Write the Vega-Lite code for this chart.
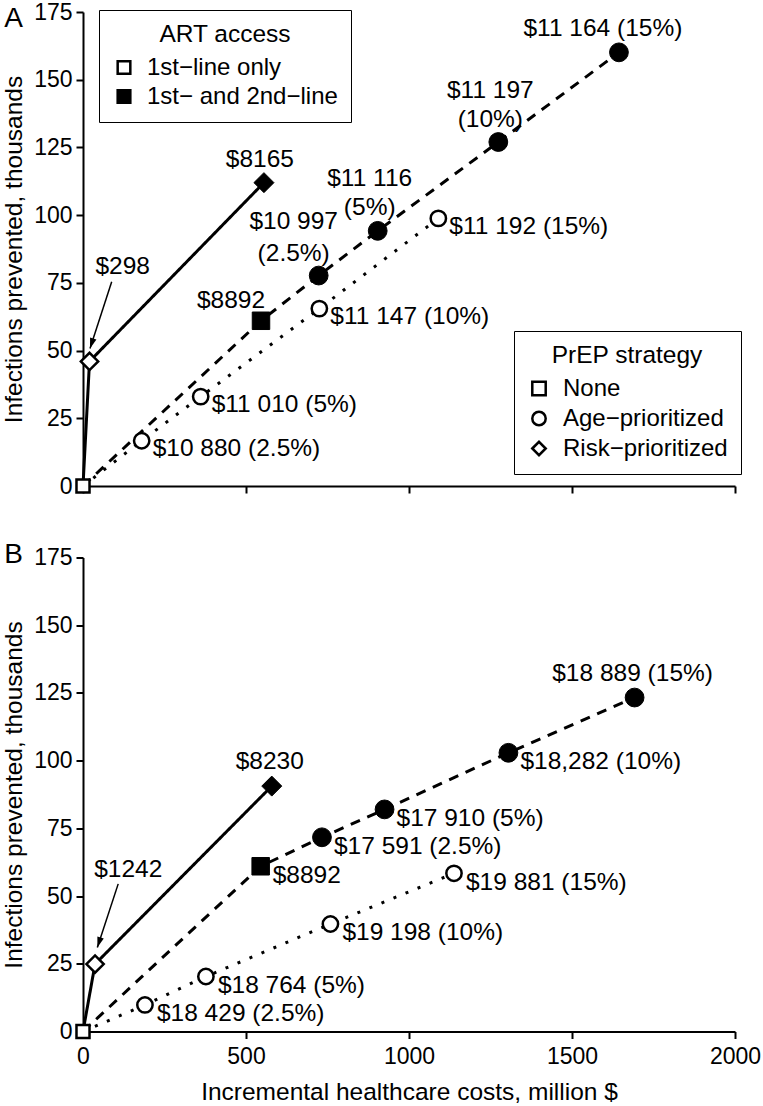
{
  "$schema": "https://vega.github.io/schema/vega-lite/v6.json",
  "padding": {"left": 1, "top": 1, "right": 0, "bottom": 0},
  "autosize": {"type": "pad"},
  "config": {
    "view": {"stroke": null},
    "font": "Liberation Sans",
    "axis": {
      "domainColor": "black", "domainWidth": 2, "tickColor": "black", "tickWidth": 2, "tickSize": 7,
      "labelFontSize": 23, "labelColor": "black", "titleFontSize": 24.5, "titleFontWeight": "normal",
      "titleColor": "black", "grid": false, "labelPadding": 4, "labelFlush": false, "format": "d"
    },
    "axisY": {"titlePadding": 7},
    "axisX": {"titlePadding": 12, "labelPadding": 7},
    "text": {"fontSize": 24.5, "color": "black"}
  },
  "datasets": {
    "ptsA": [
      {"cost": 0, "inf": 0, "art": "1st−line only", "prep": "None", "label": ""},
      {"cost": 20, "inf": 46, "art": "1st−line only", "prep": "Risk−prioritized", "label": "$298"},
      {"cost": 180, "inf": 16.7, "art": "1st−line only", "prep": "Age−prioritized", "label": "$10 880 (2.5%)"},
      {"cost": 361, "inf": 33, "art": "1st−line only", "prep": "Age−prioritized", "label": "$11 010 (5%)"},
      {"cost": 725, "inf": 65.5, "art": "1st−line only", "prep": "Age−prioritized", "label": "$11 147 (10%)"},
      {"cost": 1090, "inf": 98.8, "art": "1st−line only", "prep": "Age−prioritized", "label": "$11 192 (15%)"},
      {"cost": 546, "inf": 61, "art": "1st− and 2nd−line", "prep": "None", "label": "$8892"},
      {"cost": 555, "inf": 112, "art": "1st− and 2nd−line", "prep": "Risk−prioritized", "label": "$8165"},
      {"cost": 723, "inf": 77.7, "art": "1st− and 2nd−line", "prep": "Age−prioritized", "label": "$10 997\n(2.5%)"},
      {"cost": 904, "inf": 94.2, "art": "1st− and 2nd−line", "prep": "Age−prioritized", "label": "$11 116\n(5%)"},
      {"cost": 1274, "inf": 127, "art": "1st− and 2nd−line", "prep": "Age−prioritized", "label": "$11 197\n(10%)"},
      {"cost": 1644, "inf": 160.1, "art": "1st− and 2nd−line", "prep": "Age−prioritized", "label": "$11 164 (15%)"}
    ],
    "ptsB": [
      {"cost": 0, "inf": 0, "art": "1st−line only", "prep": "None", "label": ""},
      {"cost": 37, "inf": 24.9, "art": "1st−line only", "prep": "Risk−prioritized", "label": "$1242"},
      {"cost": 190, "inf": 9.8, "art": "1st−line only", "prep": "Age−prioritized", "label": "$18 429 (2.5%)"},
      {"cost": 377, "inf": 20.3, "art": "1st−line only", "prep": "Age−prioritized", "label": "$18 764 (5%)"},
      {"cost": 759, "inf": 39.7, "art": "1st−line only", "prep": "Age−prioritized", "label": "$19 198 (10%)"},
      {"cost": 1138, "inf": 58.4, "art": "1st−line only", "prep": "Age−prioritized", "label": "$19 881 (15%)"},
      {"cost": 545, "inf": 61, "art": "1st− and 2nd−line", "prep": "None", "label": "$8892"},
      {"cost": 579, "inf": 90.6, "art": "1st− and 2nd−line", "prep": "Risk−prioritized", "label": "$8230"},
      {"cost": 733, "inf": 71.7, "art": "1st− and 2nd−line", "prep": "Age−prioritized", "label": "$17 591 (2.5%)"},
      {"cost": 925, "inf": 82, "art": "1st− and 2nd−line", "prep": "Age−prioritized", "label": "$17 910 (5%)"},
      {"cost": 1305, "inf": 102.9, "art": "1st− and 2nd−line", "prep": "Age−prioritized", "label": "$18,282 (10%)"},
      {"cost": 1692, "inf": 123.3, "art": "1st− and 2nd−line", "prep": "Age−prioritized", "label": "$18 889 (15%)"}
    ],
    "linesA": [
      {"path": "risk", "cost": 0, "inf": 0}, {"path": "risk", "cost": 20, "inf": 46}, {"path": "risk", "cost": 555, "inf": 112},
      {"path": "art2", "cost": 0, "inf": 0}, {"path": "art2", "cost": 546, "inf": 61}, {"path": "art2", "cost": 723, "inf": 77.7},
      {"path": "art2", "cost": 904, "inf": 94.2}, {"path": "art2", "cost": 1274, "inf": 127}, {"path": "art2", "cost": 1644, "inf": 160.1},
      {"path": "age1", "cost": 0, "inf": 0}, {"path": "age1", "cost": 180, "inf": 16.7}, {"path": "age1", "cost": 361, "inf": 33},
      {"path": "age1", "cost": 725, "inf": 65.5}, {"path": "age1", "cost": 1090, "inf": 98.8}
    ],
    "linesB": [
      {"path": "risk", "cost": 0, "inf": 0}, {"path": "risk", "cost": 37, "inf": 24.9}, {"path": "risk", "cost": 579, "inf": 90.6},
      {"path": "art2", "cost": 0, "inf": 0}, {"path": "art2", "cost": 545, "inf": 61}, {"path": "art2", "cost": 733, "inf": 71.7},
      {"path": "art2", "cost": 925, "inf": 82}, {"path": "art2", "cost": 1305, "inf": 102.9}, {"path": "art2", "cost": 1692, "inf": 123.3},
      {"path": "age1", "cost": 0, "inf": 0}, {"path": "age1", "cost": 190, "inf": 9.8}, {"path": "age1", "cost": 377, "inf": 20.3},
      {"path": "age1", "cost": 759, "inf": 39.7}, {"path": "age1", "cost": 1138, "inf": 58.4}
    ],
    "arrowA": [{"cost": 88, "inf": 75.4, "cost2": 21.5, "inf2": 50.8, "label": "$298"}],
    "headA": [{"cost": 21.5, "inf": 50.8}],
    "arrowB": [{"cost": 108, "inf": 54.5, "cost2": 44, "inf2": 31, "label": "$1242"}],
    "headB": [{"cost": 44, "inf": 31}],
    "letterA": [{"cost": -213, "inf": 169.5, "label": "A"}],
    "letterB": [{"cost": -213, "inf": 172.8, "label": "B"}]
  },
  "spacing": 42.5,
  "resolve": {
    "scale": {"fill": "independent", "shape": "independent", "size": "independent", "strokeDash": "independent"},
    "legend": {"fill": "independent", "shape": "independent"}
  },
  "vconcat": [
    {
      "width": 652, "height": 474,
      "encoding": {
        "x": {"field": "cost", "type": "quantitative", "scale": {"domain": [0, 2000], "nice": false, "zero": false},
              "axis": {"values": [0, 500, 1000, 1500, 2000], "labels": false, "title": null}},
        "y": {"field": "inf", "type": "quantitative", "scale": {"domain": [0, 175], "nice": false},
              "axis": {"values": [0, 25, 50, 75, 100, 125, 150, 175], "title": "Infections prevented, thousands"}}
      },
      "resolve": {"scale": {"size": "independent"}},
      "layer": [
        {
          "data": {"name": "linesA"},
          "mark": {"type": "line", "color": "black", "strokeWidth": 3, "strokeCap": "butt"},
          "encoding": {
            "strokeDash": {"field": "path", "type": "nominal", "scale": {"domain": ["risk", "art2", "age1"], "range": [[1, 0], [10, 8], [3, 10]]}, "legend": null}
          }
        },
        {
          "data": {"name": "arrowA"},
          "mark": {"type": "rule", "color": "black", "strokeWidth": 1.5},
          "encoding": {"x2": {"field": "cost2"}, "y2": {"field": "inf2"}}
        },
        {
          "data": {"name": "headA"},
          "mark": {"type": "point", "shape": "M0,0L-0.32,-1L0.32,-1Z", "filled": true, "color": "black", "size": 440, "angle": 18, "opacity": 1, "strokeWidth": 0}
        },
        {
          "data": {"name": "ptsA"},
          "transform": [{"filter": {"field": "art", "equal": "1st−line only"}}],
          "mark": {"type": "point", "filled": true, "stroke": "black", "strokeWidth": 2.5, "opacity": 1},
          "encoding": {
            "shape": {"field": "prep", "type": "nominal",
              "scale": {"domain": ["None", "Age−prioritized", "Risk−prioritized"], "range": ["square", "circle", "diamond"]},
              "legend": {"title": "PrEP strategy", "orient": "none", "legendX": 431, "legendY": 319,
                "symbolSize": 180, "symbolStrokeWidth": 2.5, "symbolStrokeColor": "black", "symbolFillColor": "white",
                "labelFontSize": 24, "titleFontSize": 24.5, "titleFontWeight": "normal", "titleAnchor": "middle",
                "labelColor": "black", "titleColor": "black", "labelLimit": 400,
                "padding": 13, "rowPadding": 6, "titlePadding": 8, "labelOffset": 12,
                "strokeColor": "black", "fillColor": "white",
                "encode": {"symbols": {"update": {"fill": {"value": "white"}, "stroke": {"value": "black"}, "strokeWidth": {"value": 2.5}, "opacity": {"value": 1}}},
                           "legend": {"update": {"strokeWidth": {"value": 1.5}}}}}},
            "fill": {"field": "art", "type": "nominal",
              "scale": {"domain": ["1st−line only", "1st− and 2nd−line"], "range": ["white", "black"]},
              "legend": {"title": "ART access", "orient": "none", "legendX": 16, "legendY": -2,
                "symbolType": "square", "symbolSize": 160, "symbolStrokeWidth": 2.5, "symbolStrokeColor": "black",
                "labelFontSize": 24, "titleFontSize": 24.5, "titleFontWeight": "normal", "titleAnchor": "middle",
                "labelColor": "black", "titleColor": "black", "labelLimit": 400,
                "padding": 13, "rowPadding": 5, "titlePadding": 8, "labelOffset": 11,
                "strokeColor": "black", "fillColor": "white",
                "encode": {"symbols": {"update": {"stroke": {"value": "black"}, "strokeWidth": {"value": 2.5}, "opacity": {"value": 1}}},
                           "legend": {"update": {"strokeWidth": {"value": 1.5}}}}}},
            "size": {"field": "prep", "type": "nominal",
              "scale": {"domain": ["None", "Age−prioritized", "Risk−prioritized"], "range": [170, 300, 480]}, "legend": null}
          }
        },
        {
          "data": {"name": "ptsA"},
          "transform": [{"filter": {"field": "art", "equal": "1st− and 2nd−line"}}],
          "mark": {"type": "point", "filled": true, "stroke": "black", "strokeWidth": 1, "opacity": 1},
          "encoding": {
            "shape": {"field": "prep", "type": "nominal",
              "scale": {"domain": ["None", "Age−prioritized", "Risk−prioritized"], "range": ["square", "circle", "diamond"]}, "legend": null},
            "fill": {"field": "art", "type": "nominal",
              "scale": {"domain": ["1st−line only", "1st− and 2nd−line"], "range": ["white", "black"]}, "legend": null},
            "size": {"field": "prep", "type": "nominal",
              "scale": {"domain": ["None", "Age−prioritized", "Risk−prioritized"], "range": [306, 400, 576]}, "legend": null}
          }
        },
        {
          "data": {"name": "ptsA"},
          "transform": [{"filter": {"field": "label", "oneOf": ["$10 880 (2.5%)", "$11 010 (5%)", "$11 147 (10%)", "$11 192 (15%)"]}}],
          "mark": {"type": "text", "align": "left", "baseline": "middle", "dx": 11, "dy": 8.5},
          "encoding": {"text": {"field": "label"}}
        },
        {
          "data": {"name": "ptsA"},
          "transform": [{"filter": {"field": "label", "equal": "$11 164 (15%)"}}],
          "mark": {"type": "text", "align": "center", "baseline": "middle", "dx": -16, "dy": -23},
          "encoding": {"text": {"field": "label"}}
        },
        {
          "data": {"name": "ptsA"},
          "transform": [{"filter": {"field": "label", "equal": "$8165"}}],
          "mark": {"type": "text", "align": "center", "baseline": "middle", "dx": -4, "dy": -23},
          "encoding": {"text": {"field": "label"}}
        },
        {
          "data": {"name": "ptsA"},
          "transform": [{"filter": {"field": "label", "oneOf": ["$11 116\n(5%)", "$11 197\n(10%)"]}}],
          "mark": {"type": "text", "align": "center", "baseline": "middle", "dx": -8, "dy": -51.5, "lineBreak": "\n", "lineHeight": 29},
          "encoding": {"text": {"field": "label"}}
        },
        {
          "data": {"name": "ptsA"},
          "transform": [{"filter": {"field": "label", "equal": "$10 997\n(2.5%)"}}],
          "mark": {"type": "text", "align": "center", "baseline": "middle", "dx": -25, "dy": -54, "lineBreak": "\n", "lineHeight": 32},
          "encoding": {"text": {"field": "label"}}
        },
        {
          "data": {"name": "ptsA"},
          "transform": [{"filter": {"field": "label", "equal": "$8892"}}],
          "mark": {"type": "text", "align": "center", "baseline": "middle", "dx": -30, "dy": -20},
          "encoding": {"text": {"field": "label"}}
        },
        {
          "data": {"name": "arrowA"},
          "mark": {"type": "text", "align": "center", "baseline": "middle", "dx": 11, "dy": -15},
          "encoding": {"text": {"field": "label"}}
        },
        {
          "data": {"name": "letterA"},
          "mark": {"type": "text", "align": "center", "baseline": "alphabetic", "fontSize": 28},
          "encoding": {"text": {"field": "label"}}
        }
      ]
    },
    {
      "width": 652, "height": 474,
      "encoding": {
        "x": {"field": "cost", "type": "quantitative", "scale": {"domain": [0, 2000], "nice": false, "zero": false},
              "axis": {"values": [0, 500, 1000, 1500, 2000], "title": "Incremental healthcare costs, million $"}},
        "y": {"field": "inf", "type": "quantitative", "scale": {"domain": [0, 175], "nice": false},
              "axis": {"values": [0, 25, 50, 75, 100, 125, 150, 175], "title": "Infections prevented, thousands"}}
      },
      "resolve": {"scale": {"size": "independent"}},
      "layer": [
        {
          "data": {"name": "linesB"},
          "mark": {"type": "line", "color": "black", "strokeWidth": 3, "strokeCap": "butt"},
          "encoding": {
            "strokeDash": {"field": "path", "type": "nominal", "scale": {"domain": ["risk", "art2", "age1"], "range": [[1, 0], [10, 8], [3, 10]]}, "legend": null}
          }
        },
        {
          "data": {"name": "arrowB"},
          "mark": {"type": "rule", "color": "black", "strokeWidth": 1.5},
          "encoding": {"x2": {"field": "cost2"}, "y2": {"field": "inf2"}}
        },
        {
          "data": {"name": "headB"},
          "mark": {"type": "point", "shape": "M0,0L-0.32,-1L0.32,-1Z", "filled": true, "color": "black", "size": 440, "angle": 18, "opacity": 1, "strokeWidth": 0}
        },
        {
          "data": {"name": "ptsB"},
          "transform": [{"filter": {"field": "art", "equal": "1st−line only"}}],
          "mark": {"type": "point", "filled": true, "stroke": "black", "strokeWidth": 2.5, "opacity": 1},
          "encoding": {
            "shape": {"field": "prep", "type": "nominal",
              "scale": {"domain": ["None", "Age−prioritized", "Risk−prioritized"], "range": ["square", "circle", "diamond"]}, "legend": null},
            "fill": {"field": "art", "type": "nominal",
              "scale": {"domain": ["1st−line only", "1st− and 2nd−line"], "range": ["white", "black"]}, "legend": null},
            "size": {"field": "prep", "type": "nominal",
              "scale": {"domain": ["None", "Age−prioritized", "Risk−prioritized"], "range": [170, 300, 480]}, "legend": null}
          }
        },
        {
          "data": {"name": "ptsB"},
          "transform": [{"filter": {"field": "art", "equal": "1st− and 2nd−line"}}],
          "mark": {"type": "point", "filled": true, "stroke": "black", "strokeWidth": 1, "opacity": 1},
          "encoding": {
            "shape": {"field": "prep", "type": "nominal",
              "scale": {"domain": ["None", "Age−prioritized", "Risk−prioritized"], "range": ["square", "circle", "diamond"]}, "legend": null},
            "fill": {"field": "art", "type": "nominal",
              "scale": {"domain": ["1st−line only", "1st− and 2nd−line"], "range": ["white", "black"]}, "legend": null},
            "size": {"field": "prep", "type": "nominal",
              "scale": {"domain": ["None", "Age−prioritized", "Risk−prioritized"], "range": [306, 400, 576]}, "legend": null}
          }
        },
        {
          "data": {"name": "ptsB"},
          "transform": [{"filter": {"field": "label", "oneOf": ["$18 429 (2.5%)", "$18 764 (5%)", "$19 198 (10%)", "$19 881 (15%)", "$8892", "$17 591 (2.5%)", "$17 910 (5%)", "$18,282 (10%)"]}}],
          "mark": {"type": "text", "align": "left", "baseline": "middle", "dx": 12, "dy": 9.5},
          "encoding": {"text": {"field": "label"}}
        },
        {
          "data": {"name": "ptsB"},
          "transform": [{"filter": {"field": "label", "oneOf": ["$18 889 (15%)", "$8230"]}}],
          "mark": {"type": "text", "align": "center", "baseline": "middle", "dx": -2, "dy": -24},
          "encoding": {"text": {"field": "label"}}
        },
        {
          "data": {"name": "arrowB"},
          "mark": {"type": "text", "align": "center", "baseline": "middle", "dx": 10, "dy": -14},
          "encoding": {"text": {"field": "label"}}
        },
        {
          "data": {"name": "letterB"},
          "mark": {"type": "text", "align": "center", "baseline": "alphabetic", "fontSize": 28},
          "encoding": {"text": {"field": "label"}}
        }
      ]
    }
  ]
}
